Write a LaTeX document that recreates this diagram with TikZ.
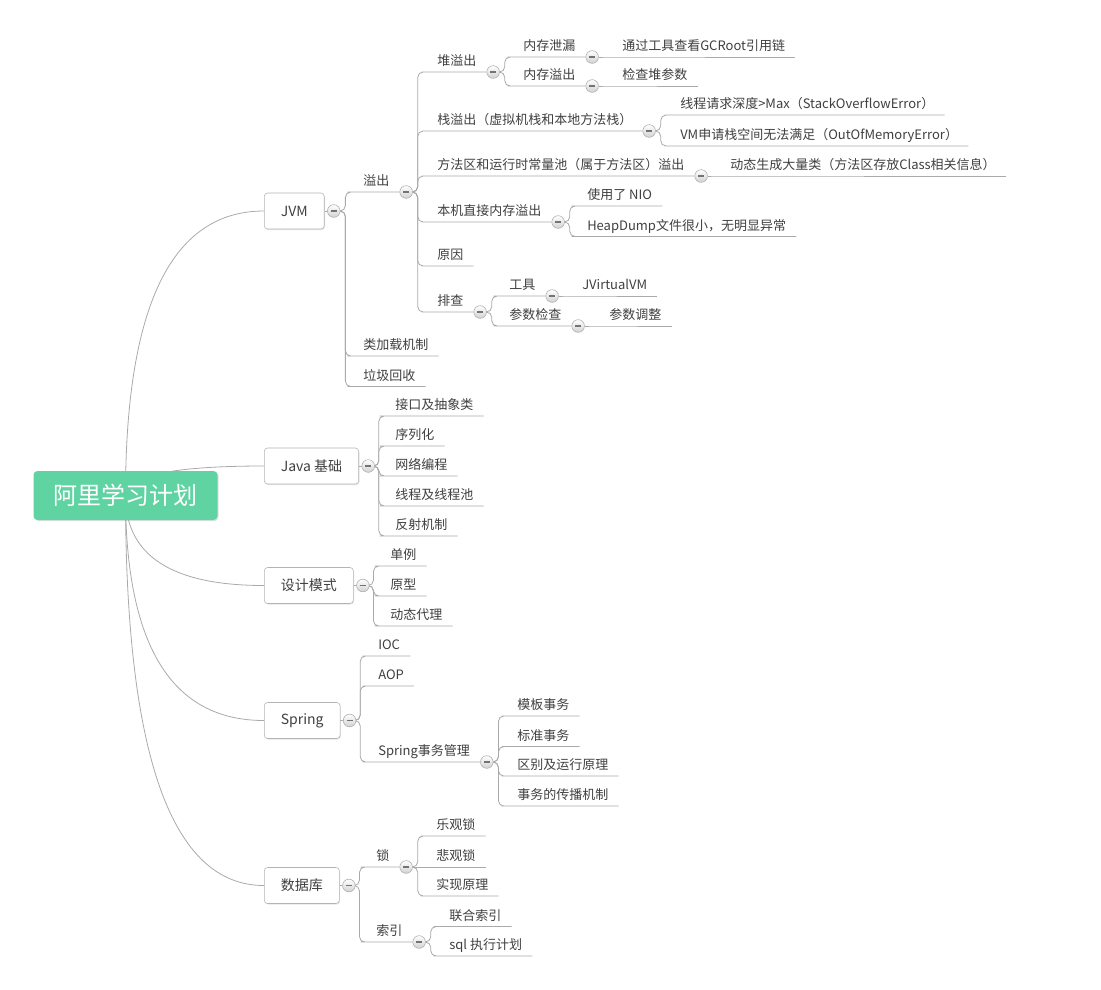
\documentclass[tikz,border=0pt]{standalone}
\usepackage{fontspec}
\setmainfont{Noto Sans CJK SC}
\usepackage{tikz}
\usetikzlibrary{positioning,calc,shadows,backgrounds}

\definecolor{lnc}{RGB}{170,170,170}
\definecolor{txtc}{RGB}{64,64,64}
\definecolor{rootc}{RGB}{96,211,162}
\definecolor{boxc}{RGB}{180,180,180}

\begin{document}
\begin{tikzpicture}[
    x=0.75pt, y=-0.75pt,
    every node/.style={text=txtc, font=\fontsize{9.75}{12}\selectfont},
    root/.style={fill=rootc, rounded corners=3pt, minimum width=138pt, minimum height=36.75pt, text=white, font=\fontsize{18}{22}\selectfont, drop shadow={shadow xshift=0.8pt, shadow yshift=-0.8pt, opacity=0.3, fill=black!40}},
    topic/.style={draw=boxc, fill=white, rounded corners=2.5pt, anchor=west, minimum height=27pt, inner xsep=12.4pt, font=\fontsize{10.5}{13}\selectfont, drop shadow={shadow xshift=0.6pt, shadow yshift=-0.8pt, opacity=0.25, fill=black!40}},
    sub/.style={anchor=south west, inner xsep=7.5pt, inner ysep=2pt, text height=7.5pt, text depth=2.5pt},
    fold/.style={circle, draw=lnc, inner sep=0pt, minimum size=9.5pt, top color=white, bottom color=black!18, path picture={\draw[black!55, line width=1.3pt] ([xshift=-2.2pt]path picture bounding box.center) -- ([xshift=2.2pt]path picture bounding box.center);}},
    conn/.style={draw=lnc, line width=0.6pt, rounded corners=4pt},
    branch/.style={to path={.. controls ($(\tikztostart)!0.667!(\tikztostart |- \tikztotarget)$) and ($(\tikztotarget)!0.667!(\tikztostart |- \tikztotarget)$) .. (\tikztotarget)}}
]
\useasboundingbox (0,0) rectangle (1101,990);

% root and main topics
\node[root] (root) at (125.5,495.5) {阿里学习计划};

\node[topic] (jvm) at (264,211) {JVM};
\node[fold, right=2pt of jvm.east] (jvm-c) {};
\node[topic] (java) at (264,466) {Java 基础};
\node[fold, right=2pt of java.east] (java-c) {};
\node[topic] (sjms) at (264,585.5) {设计模式};
\node[fold, right=2pt of sjms.east] (sjms-c) {};
\node[topic] (spring) at (264,720.5) {Spring};
\node[fold, right=2pt of spring.east] (spring-c) {};
\node[topic] (db) at (264,885.5) {数据库};
\node[fold, right=2pt of db.east] (db-c) {};

% JVM
\node[sub] (yc) at (353,192) {溢出};
\node[fold, right=0pt of yc.south east] (yc-c) {};
\node[sub] (lj) at (353,356) {类加载机制};
\node[sub] (ljhs) at (353,386.5) {垃圾回收};

\node[sub] (dui) at (427,72) {堆溢出};
\node[fold, right=0pt of dui.south east] (dui-c) {};
\node[sub] (xl) at (513,57) {内存泄漏};
\node[fold, right=0pt of xl.south east] (xl-c) {};
\node[sub] (gcr) at (612,57) {通过工具查看GCRoot引用链};
\node[sub] (ny) at (513,86) {内存溢出};
\node[fold, right=0pt of ny.south east] (ny-c) {};
\node[sub] (jc) at (612,86) {检查堆参数};

\node[sub] (zhan) at (427,131) {栈溢出（虚拟机栈和本地方法栈）};
\node[fold, right=0pt of zhan.south east] (zhan-c) {};
\node[sub] (so) at (670,115) {线程请求深度>Max（StackOverflowError）};
\node[sub] (oom) at (670,146) {VM申请栈空间无法满足（OutOfMemoryError）};

\node[sub] (ff) at (427,176) {方法区和运行时常量池（属于方法区）溢出};
\node[fold, right=0pt of ff.south east] (ff-c) {};
\node[sub] (dt) at (720,176) {动态生成大量类（方法区存放Class相关信息）};

\node[sub] (bj) at (427,222) {本机直接内存溢出};
\node[fold, right=0pt of bj.south east] (bj-c) {};
\node[sub] (nio) at (577,206) {使用了 NIO};
\node[sub] (hd) at (577,236.5) {HeapDump文件很小，无明显异常};

\node[sub] (yy) at (427,266) {原因};

\node[sub] (pc) at (427,312) {排查};
\node[fold, right=0pt of pc.south east] (pc-c) {};
\node[sub] (gj) at (499,296) {工具};
\node[fold, right=0pt of gj.south east] (gj-c) {};
\node[sub] (jv) at (572,296) {JVirtualVM};
\node[sub] (cs) at (499,326) {参数检查};
\node[fold, right=0pt of cs.south east] (cs-c) {};
\node[sub] (tz) at (599,326) {参数调整};

% Java 基础
\node[sub] (jk) at (385,416) {接口及抽象类};
\node[sub] (xlh) at (385,446) {序列化};
\node[sub] (wl) at (385,476) {网络编程};
\node[sub] (xc) at (385,506) {线程及线程池};
\node[sub] (fs) at (385,536) {反射机制};

% 设计模式
\node[sub] (dl) at (380,566) {单例};
\node[sub] (yx) at (380,596) {原型};
\node[sub] (dtdl) at (380,626) {动态代理};

% Spring
\node[sub] (ioc) at (368,656) {IOC};
\node[sub] (aop) at (368,686) {AOP};
\node[sub] (sw) at (368,762) {Spring事务管理};
\node[fold, right=0pt of sw.south east] (sw-c) {};
\node[sub] (mb) at (507,716) {模板事务};
\node[sub] (bz) at (507,746.5) {标准事务};
\node[sub] (qb) at (507,776) {区别及运行原理};
\node[sub] (cb) at (507,806) {事务的传播机制};

% 数据库
\node[sub] (suo) at (366,867) {锁};
\node[fold, right=0pt of suo.south east] (suo-c) {};
\node[sub] (lg) at (426,836) {乐观锁};
\node[sub] (bg) at (426,867) {悲观锁};
\node[sub] (sx) at (426,896) {实现原理};
\node[sub] (sy) at (366,942) {索引};
\node[fold, right=0pt of sy.south east] (sy-c) {};
\node[sub] (lh) at (439,926.5) {联合索引};
\node[sub] (sql) at (439,956) {sql 执行计划};

\begin{scope}[on background layer]
\fill[white] (0,0) rectangle (1101,990);

\draw[conn] (root.center) to[branch] (jvm.west);
\draw[conn] (root.center) to[branch] (java.west);
\draw[conn] (root.center) to[branch] (sjms.west);
\draw[conn] (root.center) to[branch] (spring.west);
\draw[conn] (root.center) to[branch] (db.west);

\draw[conn] (jvm.east) -- (jvm-c.west);
\draw[conn] (java.east) -- (java-c.west);
\draw[conn] (sjms.east) -- (sjms-c.west);
\draw[conn] (spring.east) -- (spring-c.west);
\draw[conn] (db.east) -- (db-c.west);

\draw[conn] (jvm-c.east) -- ++(5,0) |- (yc.south west) -- (yc.south east);
\draw[conn] (jvm-c.east) -- ++(5,0) |- (lj.south west) -- (lj.south east);
\draw[conn] (jvm-c.east) -- ++(5,0) |- (ljhs.south west) -- (ljhs.south east);

\draw[conn] (yc-c.east) -- ++(5,0) |- (dui.south west) -- (dui.south east);
\draw[conn] (yc-c.east) -- ++(5,0) |- (zhan.south west) -- (zhan.south east);
\draw[conn] (yc-c.east) -- ++(5,0) |- (ff.south west) -- (ff.south east);
\draw[conn] (yc-c.east) -- ++(5,0) |- (bj.south west) -- (bj.south east);
\draw[conn] (yc-c.east) -- ++(5,0) |- (yy.south west) -- (yy.south east);
\draw[conn] (yc-c.east) -- ++(5,0) |- (pc.south west) -- (pc.south east);

\draw[conn] (dui-c.east) -- ++(5,0) |- (xl.south west) -- (xl.south east);
\draw[conn] (dui-c.east) -- ++(5,0) |- (ny.south west) -- (ny.south east);
\draw[conn] (xl-c.east) -- (gcr.south west) -- (gcr.south east);
\draw[conn] (ny-c.east) -- (jc.south west) -- (jc.south east);

\draw[conn] (zhan-c.east) -- ++(5,0) |- (so.south west) -- (so.south east);
\draw[conn] (zhan-c.east) -- ++(5,0) |- (oom.south west) -- (oom.south east);
\draw[conn] (ff-c.east) -- (dt.south west) -- (dt.south east);
\draw[conn] (bj-c.east) -- ++(5,0) |- (nio.south west) -- (nio.south east);
\draw[conn] (bj-c.east) -- ++(5,0) |- (hd.south west) -- (hd.south east);

\draw[conn] (pc-c.east) -- ++(5,0) |- (gj.south west) -- (gj.south east);
\draw[conn] (pc-c.east) -- ++(5,0) |- (cs.south west) -- (cs.south east);
\draw[conn] (gj-c.east) -- (jv.south west) -- (jv.south east);
\draw[conn] (cs-c.east) -- (tz.south west) -- (tz.south east);

\draw[conn] (java-c.east) -- ++(4,0) |- (jk.south west) -- (jk.south east);
\draw[conn] (java-c.east) -- ++(4,0) |- (xlh.south west) -- (xlh.south east);
\draw[conn] (java-c.east) -- ++(4,0) |- (wl.south west) -- (wl.south east);
\draw[conn] (java-c.east) -- ++(4,0) |- (xc.south west) -- (xc.south east);
\draw[conn] (java-c.east) -- ++(4,0) |- (fs.south west) -- (fs.south east);

\draw[conn] (sjms-c.east) -- ++(4,0) |- (dl.south west) -- (dl.south east);
\draw[conn] (sjms-c.east) -- ++(4,0) |- (yx.south west) -- (yx.south east);
\draw[conn] (sjms-c.east) -- ++(4,0) |- (dtdl.south west) -- (dtdl.south east);

\draw[conn] (spring-c.east) -- ++(4,0) |- (ioc.south west) -- (ioc.south east);
\draw[conn] (spring-c.east) -- ++(4,0) |- (aop.south west) -- (aop.south east);
\draw[conn] (spring-c.east) -- ++(4,0) |- (sw.south west) -- (sw.south east);
\draw[conn] (sw-c.east) -- ++(5,0) |- (mb.south west) -- (mb.south east);
\draw[conn] (sw-c.east) -- ++(5,0) |- (bz.south west) -- (bz.south east);
\draw[conn] (sw-c.east) -- ++(5,0) |- (qb.south west) -- (qb.south east);
\draw[conn] (sw-c.east) -- ++(5,0) |- (cb.south west) -- (cb.south east);

\draw[conn] (db-c.east) -- ++(4,0) |- (suo.south west) -- (suo.south east);
\draw[conn] (db-c.east) -- ++(4,0) |- (sy.south west) -- (sy.south east);
\draw[conn] (suo-c.east) -- ++(5,0) |- (lg.south west) -- (lg.south east);
\draw[conn] (suo-c.east) -- (bg.south west) -- (bg.south east);
\draw[conn] (suo-c.east) -- ++(5,0) |- (sx.south west) -- (sx.south east);
\draw[conn] (sy-c.east) -- ++(5,0) |- (lh.south west) -- (lh.south east);
\draw[conn] (sy-c.east) -- ++(5,0) |- (sql.south west) -- (sql.south east);
\end{scope}
\end{tikzpicture}
\end{document}
